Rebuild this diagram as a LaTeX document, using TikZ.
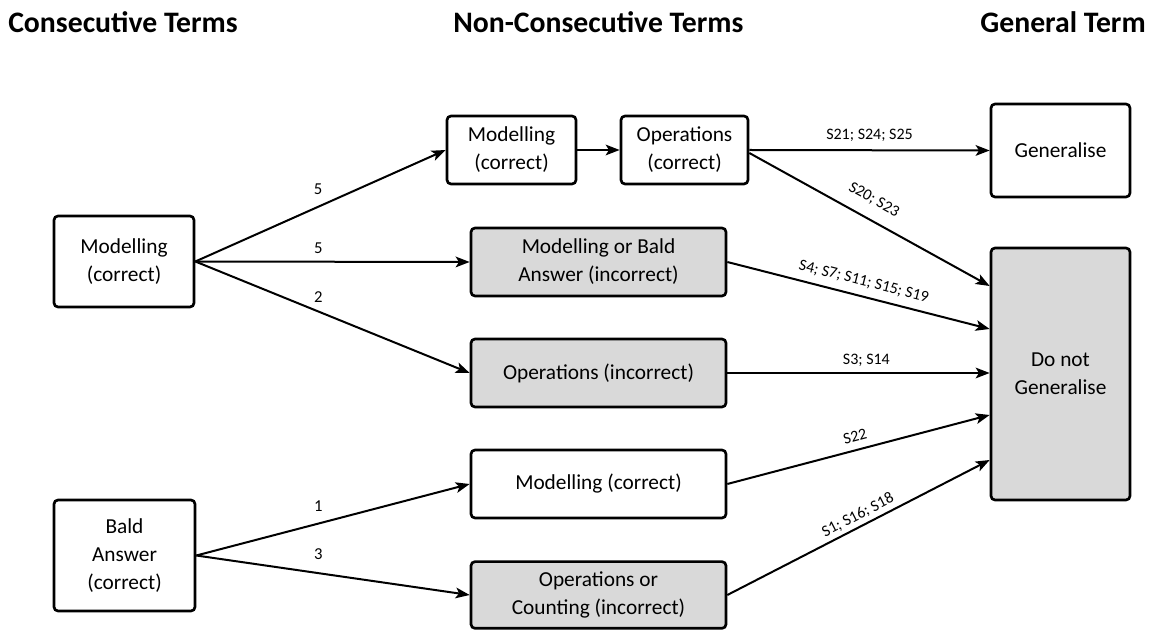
\documentclass[tikz,border=0pt]{standalone}
\usepackage{fontspec}
\setmainfont{Carlito}
\usetikzlibrary{arrows.meta,calc}
\definecolor{boxgray}{HTML}{D9D9D9}
\tikzset{
  box/.style={draw, line width=2pt, rounded corners=3pt, align=center,
    font=\fontsize{16}{21}\selectfont, inner sep=2pt},
  wbox/.style={box, fill=white},
  gbox/.style={box, fill=boxgray},
  conn/.style={line width=1.5pt, -{Stealth[length=10.5pt,width=8pt,inset=2.5pt]}},
  lbl/.style={font=\fontsize{12.5}{14}\selectfont, inner sep=1pt},
  slbl/.style={font=\fontsize{12}{14}\selectfont, sloped, above, inner sep=3pt},
  head/.style={font=\fontsize{22.3}{26}\selectfont\bfseries, inner sep=0pt}
}
\begin{document}
\begin{tikzpicture}[x=0.75pt,y=-0.75pt]
\path[use as bounding box] (0,0) rectangle (1150,630);
% headers
\node[head, anchor=base west] (h1) at (8,33) {Consecutive Terms};
\node[head, anchor=base west] (h2) at (453,33) {Non-Consecutive Terms};
\node[head, anchor=base east] (h3) at (1146,33) {General Term};
% boxes
\node[wbox, minimum width=105pt, minimum height=68.25pt] (mc) at (124,261.5) {Modelling\\(correct)};
\node[wbox, minimum width=105.75pt, minimum height=83.25pt] (ba) at (124.5,555.5) {Bald\\Answer\\(correct)};
\node[wbox, minimum width=96.75pt, minimum height=51pt] (tm) at (511.5,150) {Modelling\\(correct)};
\node[wbox, minimum width=95.25pt, minimum height=51pt] (oc) at (684.5,150) {Operations\\(correct)};
\node[gbox, minimum width=191.25pt, minimum height=51pt] (mb) at (598.5,262) {Modelling or Bald\\Answer (incorrect)};
\node[gbox, minimum width=191.25pt, minimum height=51pt] (oi) at (598.5,373) {Operations (incorrect)};
\node[wbox, minimum width=191.25pt, minimum height=51pt] (bm) at (598.5,484) {Modelling (correct)};
\node[gbox, minimum width=191.25pt, minimum height=50pt] (oci) at (598.5,595) {Operations or\\Counting (incorrect)};
\node[wbox, minimum width=104.25pt, minimum height=69.75pt] (gen) at (1060.5,150.5) {Generalise};
\node[gbox, minimum width=104.25pt, minimum height=189pt] (dng) at (1060.5,374) {Do not\\Generalise};
% entry points on Do not Generalise
\coordinate (d1) at ($(dng.west)+(0,-88)$);
\coordinate (d2) at ($(dng.west)+(0,-45)$);
\coordinate (d3) at ($(dng.west)+(0,-1)$);
\coordinate (d4) at ($(dng.west)+(0,41)$);
\coordinate (d5) at ($(dng.west)+(0,86)$);
\coordinate (ocs) at ($(oc.east)+(0,3)$);
% left connectors
\draw[conn] (mc.east) -- node[lbl, pos=0.49, yshift=13pt] {5} (tm.west);
\draw[conn] (mc.east) -- node[lbl, pos=0.448, yshift=10.5pt] {5} (mb.west);
\draw[conn] (mc.east) -- node[lbl, pos=0.448, yshift=10.5pt] {2} (oi.west);
\draw[conn] (ba.east) -- node[lbl, pos=0.446, yshift=13pt] {1} (bm.west);
\draw[conn] (ba.east) -- node[lbl, pos=0.446, yshift=14pt] {3} (oci.west);
\draw[conn] (tm.east) -- (oc.west);
% right connectors
\draw[conn] (oc.east) -- node[slbl, pos=0.5, inner sep=6pt] {S21; S24; S25} (gen.west);
\draw[conn] (ocs) -- node[slbl, pos=0.48, inner sep=9pt] {S20; S23} (d1);
\draw[conn] (mb.east) -- node[slbl, pos=0.506, inner sep=5.6pt] {S4; S7; S11; S15; S19} (d2);
\draw[conn] (oi.east) -- node[slbl, pos=0.53, inner sep=3.75pt] {S3; S14} (d3);
\draw[conn] (bm.east) -- node[slbl, pos=0.5, inner sep=5.6pt] {S22} (d4);
\draw[conn] (oci.east) -- node[slbl, pos=0.517, inner sep=2.8pt] {S1; S16; S18} (d5);
\end{tikzpicture}
\end{document}
